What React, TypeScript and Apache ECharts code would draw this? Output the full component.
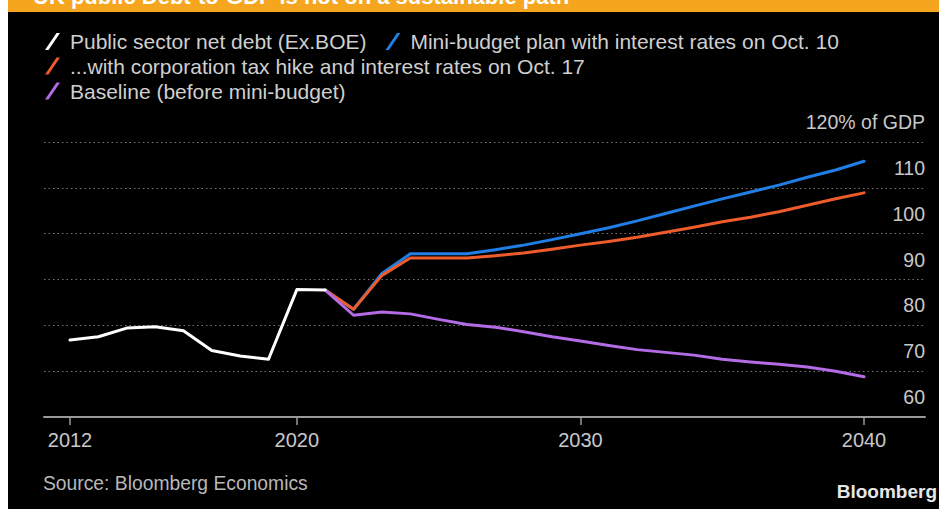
import React, { useEffect, useRef } from "react";
import * as echarts from "echarts";

// ---- data ----
const HIST_YEARS = [2012, 2013, 2014, 2015, 2016, 2017, 2018, 2019, 2020, 2021];
const HIST_VALUES = [76.8, 77.5, 79.4, 79.7, 78.8, 74.5, 73.3, 72.6, 87.8, 87.7];

const PROJ_YEARS = [
  2021, 2022, 2023, 2024, 2025, 2026, 2027, 2028, 2029, 2030,
  2031, 2032, 2033, 2034, 2035, 2036, 2037, 2038, 2039, 2040,
];
const MINI_BUDGET = [
  87.7, 83.5, 91.3, 95.6, 95.6, 95.6, 96.5, 97.5, 98.7, 100.0,
  101.3, 102.8, 104.4, 106.0, 107.6, 109.1, 110.6, 112.3, 113.9, 115.8,
];
const TAX_HIKE = [
  87.7, 83.5, 90.9, 94.7, 94.7, 94.7, 95.2, 95.8, 96.6, 97.5,
  98.3, 99.2, 100.3, 101.4, 102.6, 103.6, 104.8, 106.2, 107.6, 108.9,
];
const BASELINE = [
  87.7, 82.2, 82.9, 82.5, 81.3, 80.2, 79.6, 78.6, 77.5, 76.6,
  75.6, 74.7, 74.1, 73.5, 72.6, 72.0, 71.5, 70.9, 70.0, 68.8,
];

const X_TICKS = [2012, 2020, 2030, 2040];
const Y_MIN = 60;
const Y_MAX = 120;
const Y_STEP = 10;

const S_HIST = "Public sector net debt (Ex.BOE)";
const S_MINI = "Mini-budget plan with interest rates on Oct. 10";
const S_TAX = "...with corporation tax hike and interest rates on Oct. 17";
const S_BASE = "Baseline (before mini-budget)";

const TITLE = "UK public Debt-to-GDP is not on a sustainable path";
const SOURCE = "Source: Bloomberg Economics";
const LOGO = "Bloomberg";

const FONT = '"Liberation Sans", Arial, sans-serif';
const ICON = "path://M0,17 L3.5,17 L15,0 L11.5,0 Z";

function pairs(xs: number[], ys: number[]) {
  return xs.map((x, i) => [x, ys[i]]);
}

export default function App() {
  const ref = useRef<HTMLDivElement>(null);

  useEffect(() => {
    if (!ref.current) return;
    const chart = echarts.init(ref.current, null, { renderer: "svg" });

    const lineSeries = (name: string, color: string, data: number[][], z: number) => ({
      name,
      type: "line",
      data,
      color,
      showSymbol: false,
      symbol: "none",
      z,
      lineStyle: { color, width: 3, cap: "round", join: "round" },
      itemStyle: { color },
      emphasis: { disabled: true },
    });

    const legendBase = {
      left: 37,
      orient: "horizontal",
      icon: ICON,
      itemWidth: 15,
      itemHeight: 17,
      itemGap: 19,
      selectedMode: false,
      padding: 0,
      textStyle: {
        color: "#cfcfcf",
        fontSize: 21,
        fontFamily: FONT,
        padding: [0, 0, 0, 5],
      },
    };

    chart.setOption({
      animation: false,
      backgroundColor: "#000000",
      legend: [
        { ...legendBase, top: 31, data: [S_HIST, S_MINI] },
        { ...legendBase, top: 55.5, data: [S_TAX] },
        { ...legendBase, top: 80.5, data: [S_BASE] },
      ],
      grid: { left: 36, right: 14, top: 142, bottom: 92, containLabel: false },
      xAxis: {
        type: "value",
        min: 2011.083,
        max: 2042.151,
        axisLine: { show: true, lineStyle: { color: "#9a9a9a", width: 2 } },
        axisTick: {
          show: true,
          customValues: X_TICKS,
          length: 8,
          lineStyle: { color: "#9a9a9a", width: 1.5 },
        },
        axisLabel: {
          customValues: X_TICKS,
          color: "#c8c8c8",
          fontSize: 20,
          fontFamily: FONT,
          margin: 13,
          formatter: (v: number) => String(v),
        },
        splitLine: { show: false },
      },
      yAxis: {
        type: "value",
        position: "right",
        min: Y_MIN,
        max: Y_MAX,
        interval: Y_STEP,
        axisLine: { show: false },
        axisTick: { show: false },
        axisLabel: {
          inside: true,
          margin: 0,
          color: "#c8c8c8",
          fontSize: 19.5,
          fontFamily: FONT,
          verticalAlign: "bottom",
          padding: [0, 0, 10, 0],
          formatter: (v: number) => (v === Y_MAX ? `${v}% of GDP` : String(v)),
        },
        splitLine: {
          show: true,
          lineStyle: { color: "#777777", width: 1.2, type: [1.5, 3] },
        },
      },
      series: [
        lineSeries(S_HIST, "#ffffff", pairs(HIST_YEARS, HIST_VALUES), 5),
        lineSeries(S_MINI, "#1f7fe6", pairs(PROJ_YEARS, MINI_BUDGET), 2),
        lineSeries(S_TAX, "#ee5c2b", pairs(PROJ_YEARS, TAX_HIKE), 3),
        lineSeries(S_BASE, "#b36be6", pairs(PROJ_YEARS, BASELINE), 4),
      ],
      graphic: [
        {
          type: "rect",
          left: 0,
          top: 0,
          shape: { x: 0, y: 0, width: 931, height: 12 },
          style: { fill: "#f6a61e" },
          silent: true,
        },
        {
          type: "text",
          x: 25,
          y: 7,
          silent: true,
          style: {
            text: TITLE,
            fill: "#ffffff",
            fontSize: 22,
            fontWeight: "bold",
            fontFamily: FONT,
            align: "left",
            verticalAlign: "bottom",
          },
        },
        {
          type: "text",
          x: 35,
          y: 483,
          silent: true,
          style: {
            text: SOURCE,
            fill: "#b8b8b8",
            fontSize: 19.3,
            fontFamily: FONT,
            align: "left",
            verticalAlign: "middle",
          },
        },
        {
          type: "text",
          x: 929,
          y: 491,
          silent: true,
          style: {
            text: LOGO,
            fill: "#e6e6e6",
            fontSize: 19,
            fontWeight: "bold",
            fontFamily: FONT,
            align: "right",
            verticalAlign: "middle",
          },
        },
      ],
    });

    return () => chart.dispose();
  }, []);

  return (
    <div
      ref={ref}
      style={{
        position: "fixed",
        left: 8,
        top: 0,
        width: 931,
        height: 509,
        background: "#000000",
      }}
    />
  );
}
